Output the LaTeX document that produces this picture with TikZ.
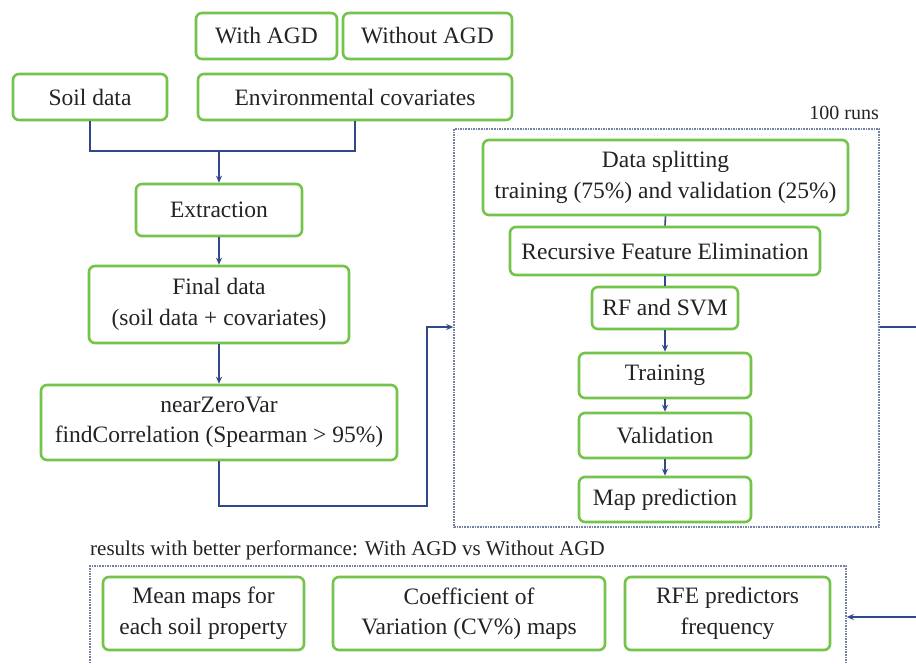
\documentclass[tikz,border=0pt]{standalone}
\usepackage{fontspec}
\setmainfont{Liberation Serif}
\usetikzlibrary{arrows.meta}
\definecolor{boxgreen}{RGB}{116,196,76}
\definecolor{linecol}{RGB}{50,72,138}
\definecolor{dotcol}{RGB}{118,128,160}
\definecolor{txt}{RGB}{35,35,35}
\tikzset{
  gbox/.style={draw=boxgreen, line width=2.6pt, rounded corners=6pt, fill=white,
    align=center, inner sep=0pt, text=txt, font=\fontsize{23.5}{30.5}\selectfont},
  dbox/.style={draw=dotcol, line width=1.6pt, densely dotted, inner sep=0pt},
  conn/.style={draw=linecol, line width=1.6pt},
  arr/.style={conn, -{Stealth[length=7pt,width=6pt]}},
  lbl/.style={text=txt, inner sep=0pt}
}
\begin{document}
\begin{tikzpicture}[x=1pt,y=-1pt]
\useasboundingbox[fill=white] (0,0) rectangle (916,664);
% top row
\node[gbox, minimum width=141, minimum height=46] (withagd) at (266.5,36) {With AGD};
\node[gbox, minimum width=169, minimum height=46] (withoutagd) at (427.5,36) {Without AGD};
\node[gbox, minimum width=154, minimum height=46] (soil) at (90,97) {Soil data};
\node[gbox, minimum width=314, minimum height=46] (env) at (355,97) {Environmental covariates};
% left column
\node[gbox, minimum width=166, minimum height=52] (extraction) at (219,210) {Extraction};
\node[gbox, minimum width=260, minimum height=77] (final) at (219,304.5) {Final data\\(soil data + covariates)};
\node[gbox, minimum width=356, minimum height=75] (nzv) at (219,422.5) {nearZeroVar\\findCorrelation (Spearman > 95\%)};
% runs box
\node[dbox, minimum width=425, minimum height=398] (runs) at (666.5,328) {};
\node[lbl, anchor=east, font=\fontsize{20}{24}\selectfont] (runslbl) at (879,113) {100 runs};
\node[gbox, minimum width=365, minimum height=75] (split) at (665.5,177.5) {Data splitting\\training (75\%) and validation (25\%)};
\node[gbox, minimum width=310, minimum height=48] (rfe) at (665,251) {Recursive Feature Elimination};
\node[gbox, minimum width=146, minimum height=42] (rfsvm) at (665,308) {RF and SVM};
\node[gbox, minimum width=172, minimum height=45] (training) at (665,375.5) {Training};
\node[gbox, minimum width=172, minimum height=45] (validation) at (665,435.5) {Validation};
\node[gbox, minimum width=172, minimum height=45] (mappred) at (665,499.5) {Map prediction};
% results box
\node[lbl, anchor=west, font=\fontsize{21}{24}\selectfont] (reslbl) at (90,550) {results with better performance: With AGD vs Without AGD};
\node[dbox, minimum width=756, minimum height=124] (results) at (468,628) {};
\node[gbox, minimum width=201, minimum height=73] (mean) at (203.5,613.5) {Mean maps for\\each soil property};
\node[gbox, minimum width=272, minimum height=73] (cv) at (469,613.5) {Coefficient of\\Variation (CV\%) maps};
\node[gbox, minimum width=205, minimum height=73] (rfepred) at (727.5,613.5) {RFE predictors\\frequency};
% connectors
\coordinate (m) at (219,151);
\draw[conn] (soil.south) |- (m);
\draw[conn] (env.south) |- (m);
\draw[arr] (m) -- (extraction.north);
\draw[arr] (extraction.south) -- (final.north);
\draw[arr] (final.south) -- (nzv.north);
\coordinate (c1) at (427,506);
\coordinate (k) at (427,327);
\draw[arr] (nzv.south) |- (c1) -- (k) -- (runs.west |- k);
\draw[conn] (split.south) -- (rfe.north);
\draw[conn] (rfe.south) -- (rfsvm.north);
\draw[arr] (rfsvm.south) -- (training.north);
\draw[arr] (training.south) -- (validation.north);
\draw[arr] (validation.south) -- (mappred.north);
\coordinate (r1) at (935,327);
\coordinate (r2) at (935,617);
\draw[arr] (runs.east |- r1) -- (r1) -- (r2) -- (results.east |- r2);
\end{tikzpicture}
\end{document}
